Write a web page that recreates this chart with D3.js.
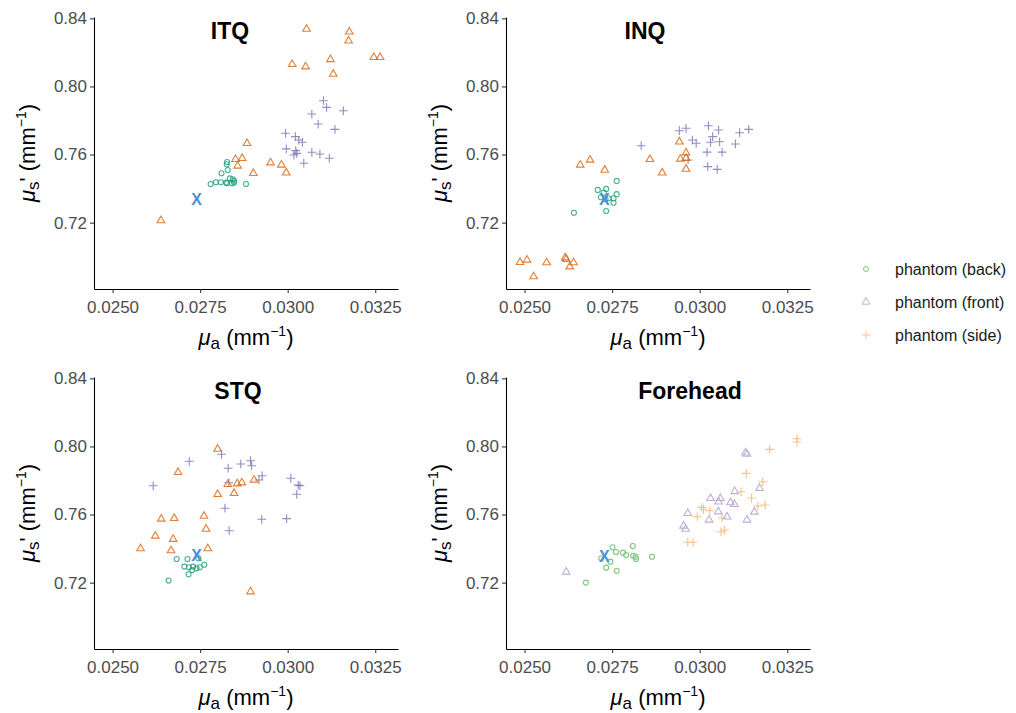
<!DOCTYPE html>
<html>
<head>
<meta charset="utf-8">
<script src="https://cdn.jsdelivr.net/npm/d3@7"></script>
<style>
  body { margin: 0; background: #fff; }
  svg { display: block; font-family: "Liberation Sans", Arial, sans-serif; }
</style>
</head>
<body>
<svg id="chart" width="1016" height="713"></svg>
<script>
// tick values + labels
const xTicks = [0.025, 0.0275, 0.03, 0.0325];
const yTicks = [0.72, 0.76, 0.80, 0.84];
const panelNames = ["ITQ", "INQ", "STQ", "Forehead"];
const groupNames = ["phantom (back)", "phantom (front)", "phantom (side)"];

// [mu_a, mu_s'] pairs
const itqBack = [[0.02827,0.7556],[0.02826,0.7543],[0.02829,0.7509],[0.02811,0.7490],[0.02780,0.7427],
  [0.02795,0.7437],[0.02809,0.7437],[0.02824,0.7435],[0.02835,0.7460],[0.02843,0.7455],[0.02847,0.7446],
  [0.02841,0.7431],[0.02827,0.7431],[0.02881,0.7427],[0.02847,0.7435]];
const itqFront = [[0.03054,0.8337],[0.03176,0.8321],[0.03174,0.8268],[0.03246,0.8171],[0.03264,0.8171],
  [0.03122,0.8159],[0.03013,0.8130],[0.03051,0.8116],[0.03130,0.8073],[0.02884,0.7666],[0.02851,0.7572],
  [0.02870,0.7578],[0.02857,0.7533],[0.02951,0.7552],[0.02982,0.7539],[0.02902,0.7490],[0.02996,0.7493],
  [0.02638,0.7212]];
const itqSide = [[0.03102,0.7916],[0.03111,0.7877],[0.03159,0.7857],[0.03069,0.7838],[0.03087,0.7779],
  [0.03135,0.7748],[0.02994,0.7725],[0.03022,0.7705],[0.03032,0.7685],[0.03042,0.7672],[0.02996,0.7633],
  [0.03023,0.7623],[0.03026,0.7607],[0.03069,0.7613],[0.03092,0.7603],[0.03119,0.7578],[0.03046,0.7549],
  [0.03018,0.7597]];

const inqBack = [[0.02763,0.7445],[0.02709,0.7392],[0.02733,0.7398],[0.02726,0.7376],[0.02718,0.7349],
  [0.02740,0.7343],[0.02763,0.7367],[0.02754,0.7317],[0.02733,0.7268],[0.02641,0.7258],[0.02754,0.7343],
  [0.02731,0.7337]];
const inqFront = [[0.02942,0.7675],[0.02961,0.7611],[0.02945,0.7574],[0.02961,0.7578],[0.02961,0.7515],
  [0.02858,0.7572],[0.02893,0.7493],[0.02659,0.7539],[0.02687,0.7568],[0.02729,0.7509],[0.02487,0.6967],
  [0.02507,0.6981],[0.02563,0.6965],[0.02616,0.6994],[0.02619,0.6985],[0.02640,0.6965],[0.02629,0.6941],
  [0.02526,0.6883]];
const inqSide = [[0.02942,0.7740],[0.02961,0.7754],[0.03025,0.7769],[0.03054,0.7744],[0.03114,0.7728],
  [0.03140,0.7748],[0.02833,0.7652],[0.02979,0.7685],[0.02990,0.7666],[0.03037,0.7705],[0.03031,0.7672],
  [0.03057,0.7675],[0.03102,0.7662],[0.03021,0.7614],[0.03064,0.7614],[0.03023,0.7529],[0.03050,0.7513],
  [0.02967,0.7568]];

const stqBack = [[0.02683,0.7339],[0.02714,0.7339],[0.02705,0.7294],[0.02718,0.7290],[0.02730,0.7294],
  [0.02740,0.7284],[0.02749,0.7290],[0.02762,0.7305],[0.02727,0.7274],[0.02717,0.7249],[0.02660,0.7212],
  [0.02745,0.7343]];
const stqFront = [[0.02800,0.7985],[0.02687,0.7848],[0.02904,0.7803],[0.02829,0.7778],[0.02856,0.7781],
  [0.02869,0.7787],[0.02847,0.7725],[0.02800,0.7719],[0.02639,0.7574],[0.02676,0.7578],[0.02761,0.7591],
  [0.02767,0.7515],[0.02622,0.7474],[0.02673,0.7455],[0.02580,0.7400],[0.02667,0.7388],[0.02772,0.7400],
  [0.02894,0.7147]];
const stqSide = [[0.02719,0.7913],[0.02616,0.7769],[0.02811,0.7954],[0.02830,0.7872],[0.02866,0.7897],
  [0.02894,0.7916],[0.02897,0.7887],[0.02927,0.7828],[0.02918,0.7803],[0.02832,0.7787],[0.03009,0.7813],
  [0.03030,0.7773],[0.03035,0.7769],[0.03026,0.7719],[0.02821,0.7637],[0.02926,0.7572],[0.02997,0.7576],
  [0.02833,0.7505]];

const foreBack = [[0.02751,0.7408],[0.02809,0.7415],[0.02761,0.7380],[0.02781,0.7376],[0.02790,0.7362],
  [0.02810,0.7358],[0.02817,0.7352],[0.02818,0.7339],[0.02864,0.7352],[0.02719,0.7343],[0.02745,0.7323],
  [0.02733,0.7288],[0.02763,0.7270],[0.02675,0.7200]];
const foreFront = [[0.03131,0.7963],[0.03135,0.7955],[0.03100,0.7736],[0.03171,0.7754],[0.03031,0.7695],
  [0.03059,0.7695],[0.03054,0.7675],[0.03088,0.7670],[0.03099,0.7660],[0.02966,0.7607],[0.03053,0.7617],
  [0.03078,0.7587],[0.03027,0.7568],[0.03156,0.7615],[0.03135,0.7568],[0.02954,0.7533],[0.02960,0.7515],
  [0.02619,0.7263]];
const foreSide = [[0.03278,0.8045],[0.03278,0.8026],[0.03200,0.7983],[0.03133,0.7842],[0.03180,0.7793],
  [0.03118,0.7734],[0.03148,0.7697],[0.03166,0.7650],[0.03187,0.7656],[0.03006,0.7642],[0.03011,0.7631],
  [0.03029,0.7622],[0.02993,0.7587],[0.03064,0.7580],[0.03061,0.7499],[0.03071,0.7509],[0.02966,0.7437],
  [0.02981,0.7437]];

// the blue X reference measurement in each panel
const referencePoints = [[0.02740,0.7337],[0.02728,0.7339],[0.02740,0.7358],[0.02728,0.7357]];

const darkColors = ["#1B9E77", "#D95F02", "#7570B3"];
const pastelColors = ["#7FC97F", "#BEAED4", "#FDC086"];

const panels = [
  { groups: [itqBack, itqFront, itqSide], colors: darkColors, opacity: 0.8, titleX: 136 },
  { groups: [inqBack, inqFront, inqSide], colors: darkColors, opacity: 0.8, titleX: 139 },
  { groups: [stqBack, stqFront, stqSide], colors: darkColors, opacity: 0.8, titleX: 144 },
  { groups: [foreBack, foreFront, foreSide], colors: pastelColors, opacity: 1, titleX: 184 }
];

// stroke plus (older v7 builds may not ship symbolPlus)
const plusType = d3.symbolPlus || {
  draw(ctx, size) {
    const r = Math.sqrt(size - Math.min(size / 7, 2)) * 0.87559;
    ctx.moveTo(-r, 0); ctx.lineTo(r, 0);
    ctx.moveTo(0, r); ctx.lineTo(0, -r);
  }
};
const shapes = [d3.symbolCircle, d3.symbolTriangle, plusType];
const shapeSizes = [20, 25, 27];

const width = 304, height = 272;
const svg = d3.select("#chart");

const x = d3.scaleLinear().domain([0.02447, 0.03315]).range([0, width]);
const y = d3.scaleLinear().domain([0.681, 0.8408]).range([height, 0]);

function muLabel(text, sub, prime) {
  text.append("tspan").attr("font-style", "italic").text("μ");
  text.append("tspan").attr("font-size", 17).attr("dy", 4).text(sub);
  text.append("tspan").attr("dy", -4).text((prime ? "'" : "") + " (mm");
  text.append("tspan").attr("font-size", 14).attr("dy", -9).text("−1");
  text.append("tspan").attr("dy", 9).text(")");
}

panels.forEach((p, i) => {
  const col = i % 2, row = Math.floor(i / 2);
  const g = svg.append("g").attr("transform", `translate(${94 + col * 412},${17 + row * 360})`);

  const xAxis = g.append("g")
    .attr("transform", `translate(0,${height})`)
    .call(d3.axisBottom(x).tickValues(xTicks).tickFormat(d3.format(".4f"))
      .tickSize(4).tickSizeOuter(0).tickPadding(8));
  const yAxis = g.append("g")
    .call(d3.axisLeft(y).tickValues(yTicks).tickFormat(d3.format(".2f"))
      .tickSize(4).tickSizeOuter(0).tickPadding(3));

  [xAxis, yAxis].forEach(a => {
    a.attr("font-family", null).attr("font-size", 17);
    a.select(".domain").attr("stroke", "#000").attr("stroke-width", 1.07);
    a.selectAll(".tick line").attr("stroke", "#333").attr("stroke-width", 1.07);
    a.selectAll(".tick text").attr("fill", "#4D4D4D");
  });

  g.append("text")
    .attr("x", width / 2).attr("y", 328)
    .attr("text-anchor", "middle").attr("font-size", 22)
    .call(muLabel, "a", false);

  g.append("text")
    .attr("transform", `translate(-59,${height / 2}) rotate(-90)`)
    .attr("text-anchor", "middle").attr("font-size", 22)
    .call(muLabel, "s", true);

  g.append("text")
    .attr("x", p.titleX).attr("y", 22)
    .attr("text-anchor", "middle").attr("font-size", 23).attr("font-weight", "bold")
    .text(panelNames[i]);

  // side first, back last so circles stay on top
  [2, 1, 0].forEach(k => {
    g.append("g").selectAll("path")
      .data(p.groups[k])
      .join("path")
      .attr("transform", d => `translate(${x(d[0])},${y(d[1])})`)
      .attr("d", d3.symbol(shapes[k], shapeSizes[k]))
      .attr("fill", "none")
      .attr("stroke", p.colors[k])
      .attr("stroke-opacity", p.opacity)
      .attr("stroke-width", 1.1);
  });

  g.append("text")
    .attr("x", x(referencePoints[i][0])).attr("y", y(referencePoints[i][1]))
    .attr("dy", "0.36em")
    .attr("text-anchor", "middle").attr("font-size", 16).attr("font-weight", "bold")
    .attr("fill", "#4A90D9")
    .text("X");
});

// legend
const legend = svg.append("g").attr("transform", "translate(866,269)");
groupNames.forEach((name, k) => {
  const row = legend.append("g").attr("transform", `translate(0,${k * 33})`);
  row.append("path")
    .attr("d", d3.symbol(shapes[k], shapeSizes[k])())
    .attr("fill", "none").attr("stroke", pastelColors[k]).attr("stroke-width", 1);
  row.append("text")
    .attr("x", 29).attr("dy", "0.35em")
    .attr("font-size", 16).attr("fill", "#1A1A1A")
    .text(name);
});
</script>
</body>
</html>
